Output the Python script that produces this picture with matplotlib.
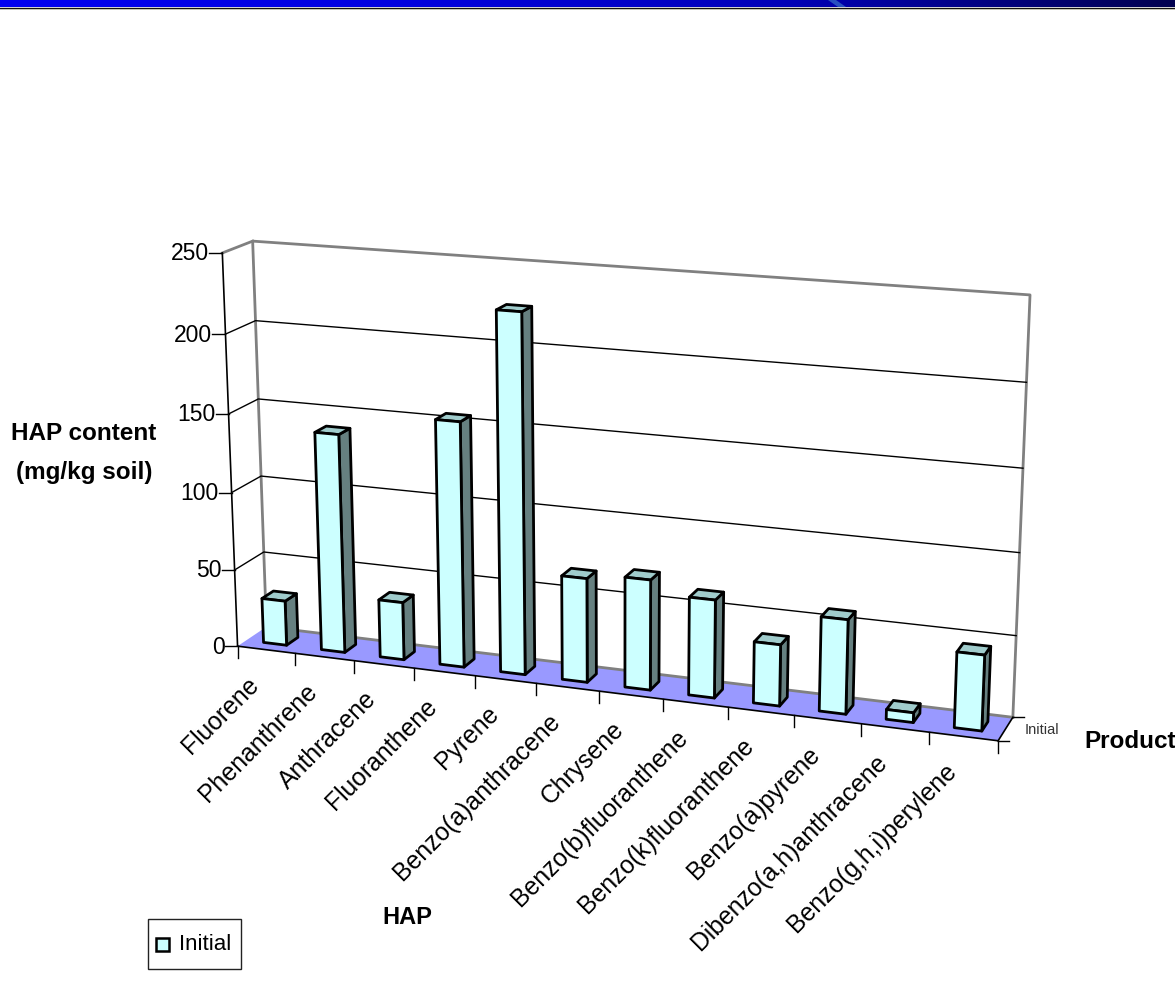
import numpy as np
import matplotlib
matplotlib.use("Agg")
import matplotlib.pyplot as plt
from matplotlib.colors import LinearSegmentedColormap
from matplotlib.patches import Polygon, Rectangle

plt.rcParams["font.family"] = ["Liberation Sans", "DejaVu Sans"]

categories = ["Fluorene", "Phenanthrene", "Anthracene", "Fluoranthene", "Pyrene",
              "Benzo(a)anthracene", "Chrysene", "Benzo(b)fluoranthene",
              "Benzo(k)fluoranthene", "Benzo(a)pyrene", "Dibenzo(a,h)anthracene",
              "Benzo(g,h,i)perylene"]
initial = [29, 140, 37, 155, 225, 65.5, 69, 61, 38, 58, 6, 46]
value_ticks = [0, 50, 100, 150, 200, 250]
series_name = "Initial"

FRONT_FACE = "#CCFFFF"
SIDE_FACE = "#668080"
TOP_FACE = "#A0CCCC"
FLOOR = "#9999FF"
WALL_EDGE = "#808080"

# Perspective camera: world (category, value, depth) to canvas pixels,
# solved from where the box corners sit on the canvas.
world = [(0, 0, 0), (12, 0, 0), (0, 250, 0),
         (0, 0, 1), (12, 0, 1), (0, 250, 1), (12, 250, 1)]
canvas = [(238, 645), (998, 742), (222, 253),
          (266, 628), (1013, 716), (253, 241), (1030, 295)]

rows, rhs = [], []
for (a, b, c), (px, py) in zip(world, canvas):
    rows.append([a, b, c, 1, 0, 0, 0, 0, -px * a, -px * b, -px * c])
    rows.append([0, 0, 0, 0, a, b, c, 1, -py * a, -py * b, -py * c])
    rhs += [px, py]
coef = np.linalg.lstsq(np.array(rows, float), np.array(rhs, float), rcond=None)[0]
camera = np.append(coef, 1.0).reshape(3, 4)


def proj(cat, val, depth):
    x, y, w = camera @ np.array([cat, val, depth, 1.0])
    return x / w, y / w


fig = plt.figure(figsize=(11.75, 9.81), dpi=100)
ax = fig.add_axes([0, 0, 1, 1])
ax.set_axis_off()

# Slide banner across the top edge
banner = LinearSegmentedColormap.from_list(
    "banner", ["#0000F0", "#0000E0", "#0000B8", "#000050"], N=256)
ax.imshow(np.linspace(0, 1, 512)[None, :], cmap=banner, extent=(0, 1175, 7, 0),
          aspect="auto", zorder=1)
ax.plot([0, 1175], [7.5, 7.5], color="#101010", lw=1, zorder=2)
ax.plot([0, 1175], [8.5, 8.5], color="#C0C0B0", lw=0.6, zorder=2)
ax.add_patch(Polygon([(828, 0), (836, 0), (846, 7), (838, 7)], color="#2850C0", lw=0, zorder=2))
ax.set_xlim(0, 1175)
ax.set_ylim(981, 0)

n = len(categories)

# Floor and walls
ax.add_patch(Polygon([proj(0, 0, 0), proj(n, 0, 0), proj(n, 0, 1), proj(0, 0, 1)],
                     fc=FLOOR, ec="none", zorder=3))
ax.plot(*zip(proj(0, 0, 1), proj(n, 0, 1)), color=WALL_EDGE, lw=2, zorder=4)
for corners in ([(0, 0, 1), (0, 250, 1), (n, 250, 1), (n, 0, 1)],
                [(0, 250, 0), (0, 250, 1)]):
    ax.plot(*zip(*[proj(*c) for c in corners]), color=WALL_EDGE, lw=2, zorder=4)

# Gridlines run along the left wall and the back wall
for v in value_ticks:
    if 0 < v < 250:
        ax.plot(*zip(proj(0, v, 0), proj(0, v, 1), proj(n, v, 1)), color="black", lw=1, zorder=4)

# Value axis with its ticks and labels
ax.plot(*zip(proj(0, 0, 0), proj(0, 250, 0)), color="black", lw=1.2, zorder=5)
for v in value_ticks:
    x, y = proj(0, v, 0)
    ax.plot([x - 13, x], [y, y], color="black", lw=1, zorder=5)
    ax.text(x - 13, y + 1, str(v), ha="right", va="center", fontsize=16.5, color="black")

# Category axis with its ticks
ax.plot(*zip(proj(0, 0, 0), proj(n, 0, 0)), color="black", lw=1.2, zorder=5)
for i in range(n + 1):
    x, y = proj(i, 0, 0)
    ax.plot([x, x], [y, y + 12], color="black", lw=1, zorder=5)

# Depth axis along the right of the floor
ax.plot(*zip(proj(n, 0, 0), proj(n, 0, 1)), color="black", lw=1.2, zorder=5)
for d in (0, 1):
    x, y = proj(n, 0, d)
    ax.plot([x, x + 11], [y, y], color="black", lw=1, zorder=5)
ax.text(1025, 730, series_name, ha="left", va="center", fontsize=10.5, color="#333333")

# Bars, three visible faces each
BAR_LEFT, BAR_RIGHT = 0.3, 0.7
DEPTH_FRONT, DEPTH_BACK = 0.3, 0.7
for i, value in enumerate(initial):
    l, r = i + BAR_LEFT, i + BAR_RIGHT
    f, b = DEPTH_FRONT, DEPTH_BACK
    faces = [
        ([(r, 0, f), (r, 0, b), (r, value, b), (r, value, f)], SIDE_FACE),
        ([(l, value, f), (r, value, f), (r, value, b), (l, value, b)], TOP_FACE),
        ([(l, 0, f), (r, 0, f), (r, value, f), (l, value, f)], FRONT_FACE),
    ]
    for corners, colour in faces:
        ax.add_patch(Polygon([proj(*c) for c in corners], closed=True, fc=colour,
                             ec="black", lw=2.0, joinstyle="round", zorder=6))

# Category labels, slanted and ending under the middle of each slot
for i, name in enumerate(categories):
    x, y = proj(i + 0.5, 0, 0)
    ax.text(x - 11, y + 31, name, rotation=45, rotation_mode="anchor", ha="right", va="center",
            fontsize=17.8, color="black", zorder=7)

# Axis titles
ax.text(84, 434, "HAP content", ha="center", va="center", fontsize=17.5,
        fontweight="bold", color="black")
ax.text(84, 472, "(mg/kg soil)", ha="center", va="center", fontsize=17.5,
        fontweight="bold", color="black")
ax.text(407, 917, "HAP", ha="center", va="center", fontsize=17, fontweight="bold", color="black")
ax.text(1084, 741, "Product", ha="left", va="center", fontsize=17.5, fontweight="bold", color="black")

# Legend box with its swatch
ax.add_patch(Rectangle((147.5, 918.5), 93, 50, fc="white", ec="#222222", lw=1, zorder=6))
ax.add_patch(Rectangle((155.5, 937.5), 13, 13, fc=FRONT_FACE, ec="black", lw=1.8, zorder=7))
ax.text(179, 944, series_name, ha="left", va="center", fontsize=16, color="black", zorder=7)

fig.savefig("out.png", dpi=100)
